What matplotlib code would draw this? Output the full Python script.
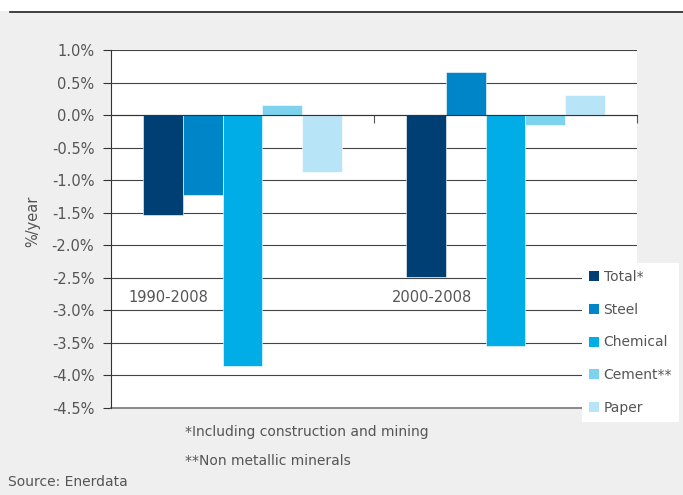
import numpy as np
import matplotlib
matplotlib.use('Agg')
from matplotlib import pyplot as plt
from matplotlib.patches import Patch

periods = ['1990-2008', '2000-2008']
sectors = ['Total*', 'Steel', 'Chemical', 'Cement**', 'Paper']
total = [-1.53, -2.49]
steel = [-1.22, 0.66]
chemical = [-3.85, -3.54]
cement = [0.16, -0.15]
paper = [-0.87, 0.31]
colors = ['#003f74', '#0085c9', '#00ade6', '#7dd3ee', '#b8e4f7']

yticks = np.arange(1.0, -4.51, -0.5)

plt.rcParams['font.family'] = 'DejaVu Sans'
text_color = '#555555'

fig = plt.figure(figsize=(6.83, 4.95), dpi=100)
fig.patch.set_facecolor('#efefef')

# white strip and rule at the top of the page
fig.patches.append(plt.Rectangle((0, 1 - 11 / 495), 1, 11 / 495, transform=fig.transFigure,
                                 facecolor='white', edgecolor='none', zorder=0))
fig.add_artist(plt.Line2D([10 / 683, 1], [1 - 12 / 495, 1 - 12 / 495], transform=fig.transFigure,
                          color='#222222', linewidth=1.2))

ax = fig.add_axes([111 / 683, 1 - 408 / 495, 526 / 683, 358 / 495])
ax.set_facecolor('white')

x = np.arange(len(periods))
width = 0.152
series = [total, steel, chemical, cement, paper]
for i, (vals, c) in enumerate(zip(series, colors)):
    ax.bar(x + (i - 2) * width, vals, width, color=c, edgecolor='white', linewidth=0.4, zorder=3)

ax.set_xlim(-0.5, 1.5)
ax.set_ylim(-4.5, 1.0)
ax.set_yticks(yticks)
ax.set_yticklabels(['%.1f%%' % v for v in yticks], color=text_color, fontsize=10.5)
ax.yaxis.grid(True, color='#444444', linewidth=0.8, zorder=1)
ax.axhline(-4.5, color='#777777', linewidth=1.2, clip_on=False, zorder=2)
ax.tick_params(axis='y', direction='out', length=6, width=0.8, color='#333333', pad=6)

# category axis sits on the zero line, ticks only between groups
ax.spines['bottom'].set_position(('data', 0))
ax.spines['bottom'].set_color('#333333')
ax.spines['bottom'].set_zorder(4)
ax.set_xticks([0.5, 1.5])
ax.set_xticklabels(['', ''])
ax.tick_params(axis='x', direction='out', length=6, width=0.8, color='#555555')
ax.spines['top'].set_visible(False)
ax.spines['right'].set_visible(False)
ax.spines['left'].set_color('#333333')
ax.spines['left'].set_linewidth(0.8)

for xi, p in zip(x, periods):
    ax.text(xi - 0.28, -2.8, p, ha='center', va='center', fontsize=10.5, color=text_color, zorder=5)

fig.text(33 / 683, 1 - 221 / 495, '%/year', rotation=90, ha='center', va='center',
         fontsize=10.5, color=text_color)

handles = [Patch(facecolor=c, edgecolor='none') for c in colors]
leg = fig.legend(handles, sectors, loc='upper left', bbox_to_anchor=(582 / 683, 1 - 263 / 495),
                 frameon=True, fancybox=False, framealpha=1, edgecolor='none', facecolor='white',
                 fontsize=10, labelspacing=1.35, handlelength=0.75, handleheight=0.75,
                 handletextpad=0.3, borderpad=0.5, borderaxespad=0)
for t in leg.get_texts():
    t.set_color(text_color)

fig.text(185 / 683, 1 - 432 / 495, '*Including construction and mining', ha='left', va='center',
         fontsize=10, color=text_color)
fig.text(185 / 683, 1 - 461 / 495, '**Non metallic minerals', ha='left', va='center',
         fontsize=10, color=text_color)
fig.text(8 / 683, 1 - 482 / 495, 'Source: Enerdata', ha='left', va='center',
         fontsize=10, color=text_color)

fig.savefig('out.png', dpi=100, facecolor=fig.get_facecolor())
